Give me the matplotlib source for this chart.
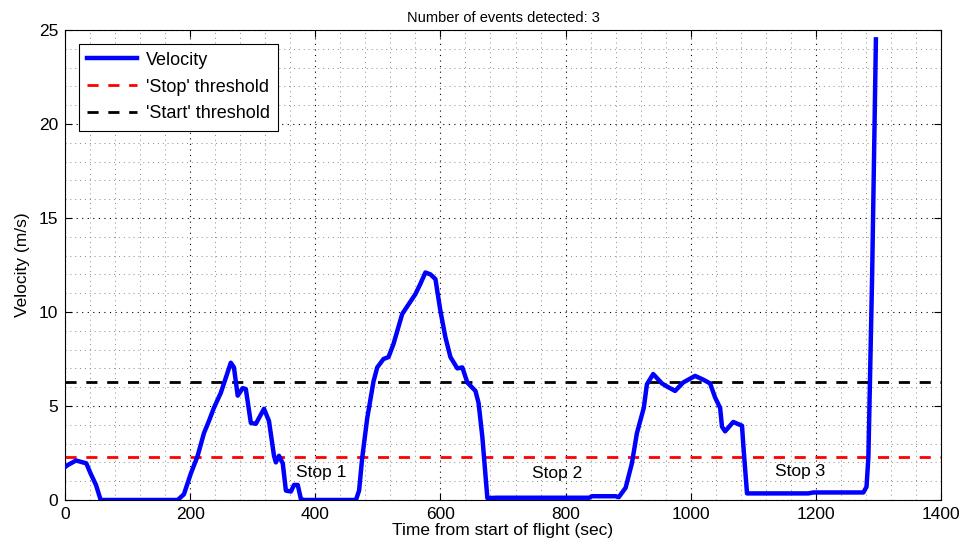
import matplotlib
matplotlib.use("Agg")
import matplotlib.pyplot as plt
from matplotlib.ticker import MultipleLocator

plt.rcParams.update({"font.family": ["Liberation Sans", "DejaVu Sans"],
                     "font.size": 12})

# velocity trace (sec, m/s)
time_s = [2, 4, 17.5, 34, 41, 49.5, 57, 180, 190, 201, 212, 222, 230, 238,
          249, 257, 265, 270, 276, 284, 289, 297, 305, 318, 326, 334, 337,
          342, 348, 353, 361, 366, 372, 377, 382, 465, 470, 475, 483, 493,
          499, 509, 517, 525, 539, 547, 560, 568, 576, 584, 592, 600, 608,
          616, 627, 635, 643, 656, 661, 667, 675, 690, 760, 838, 842, 880,
          885, 896, 906, 914, 925, 930, 940, 954, 964, 975, 988, 1007, 1020,
          1031, 1039, 1047, 1050, 1055, 1068, 1082, 1084, 1090, 1188, 1196,
          1276, 1281, 1284, 1290, 1296]
velocity = [1.8, 1.85, 2.1, 1.95, 1.4, 0.8, 0.0, 0.0, 0.3, 1.4, 2.35, 3.55,
            4.2, 4.9, 5.7, 6.5, 7.3, 7.05, 5.55, 5.95, 5.9, 4.1, 4.05,
            4.85, 4.2, 2.35, 2.0, 2.35, 1.95, 0.5, 0.45, 0.8, 0.8, 0.05, 0.0,
            0.0, 0.5, 2.25, 4.35, 6.3, 7.05, 7.5, 7.6, 8.3, 9.9, 10.3, 10.95,
            11.5, 12.1, 12.0, 11.75, 10.05, 8.65, 7.6, 7.0, 7.05, 6.25, 5.8,
            5.15, 3.35, 0.1, 0.12, 0.12, 0.12, 0.2, 0.2, 0.15, 0.65, 1.95, 3.55,
            4.9, 6.15, 6.7, 6.2, 6.0, 5.8, 6.25, 6.6, 6.4, 6.2, 5.45, 4.9,
            3.9, 3.65, 4.15, 3.95, 2.95, 0.35, 0.35, 0.4, 0.4, 0.7, 2.3, 12.0,
            24.5]

stop_threshold = 2.3
start_threshold = 6.27

stop_labels = ["Stop 1", "Stop 2", "Stop 3"]
stop_label_x = [409, 787, 1175]
stop_label_y = [1.45, 1.4, 1.5]

fig = plt.figure(figsize=(9.66, 5.54), dpi=100)
ax = fig.add_axes([0.0673, 0.0975, 0.9068, 0.8484])

ax.plot(time_s, velocity, color="#0000ff", lw=3.2, label="Velocity",
        solid_joinstyle="round", zorder=3)
ax.axhline(stop_threshold, color="#ff0000", ls=(0, (4, 3.5)), lw=2,
           label="'Stop' threshold", zorder=2)
ax.axhline(start_threshold, color="black", ls=(0, (4, 3.5)), lw=2,
           label="'Start' threshold", zorder=2)

for lbl, lx, ly in zip(stop_labels, stop_label_x, stop_label_y):
    ax.text(lx, ly, lbl, ha="center", va="center", fontsize=12.5, zorder=4)

ax.set_xlim(0, 1400)
ax.set_ylim(0, 25)
ax.xaxis.set_major_locator(MultipleLocator(200))
ax.xaxis.set_minor_locator(MultipleLocator(40))
ax.yaxis.set_major_locator(MultipleLocator(5))
ax.yaxis.set_minor_locator(MultipleLocator(1))
ax.tick_params(which="both", direction="in", top=True, right=True,
               labelsize=12.5)
ax.tick_params(which="major", length=5, pad=5)
ax.tick_params(which="minor", length=0)
ax.grid(which="major", ls=(0, (1, 4)), color="black", lw=0.8)
ax.grid(which="minor", ls=(0, (1, 4)), color="#888888", lw=0.7)
ax.set_axisbelow(True)

ax.set_xlabel("Time from start of flight (sec)", fontsize=12.5, labelpad=1)
ax.set_ylabel("Velocity (m/s)", fontsize=12.5, labelpad=6)
ax.set_title("Number of events detected: 3", fontsize=10.5, pad=6)

leg = ax.legend(loc="upper left", fontsize=13, fancybox=False,
                edgecolor="black", framealpha=1, handlelength=2.8,
                handletextpad=0.5, borderpad=0.45,
                borderaxespad=0.75, labelspacing=0.55)
leg.get_frame().set_linewidth(0.8)

fig.savefig("out.png", dpi=100)
